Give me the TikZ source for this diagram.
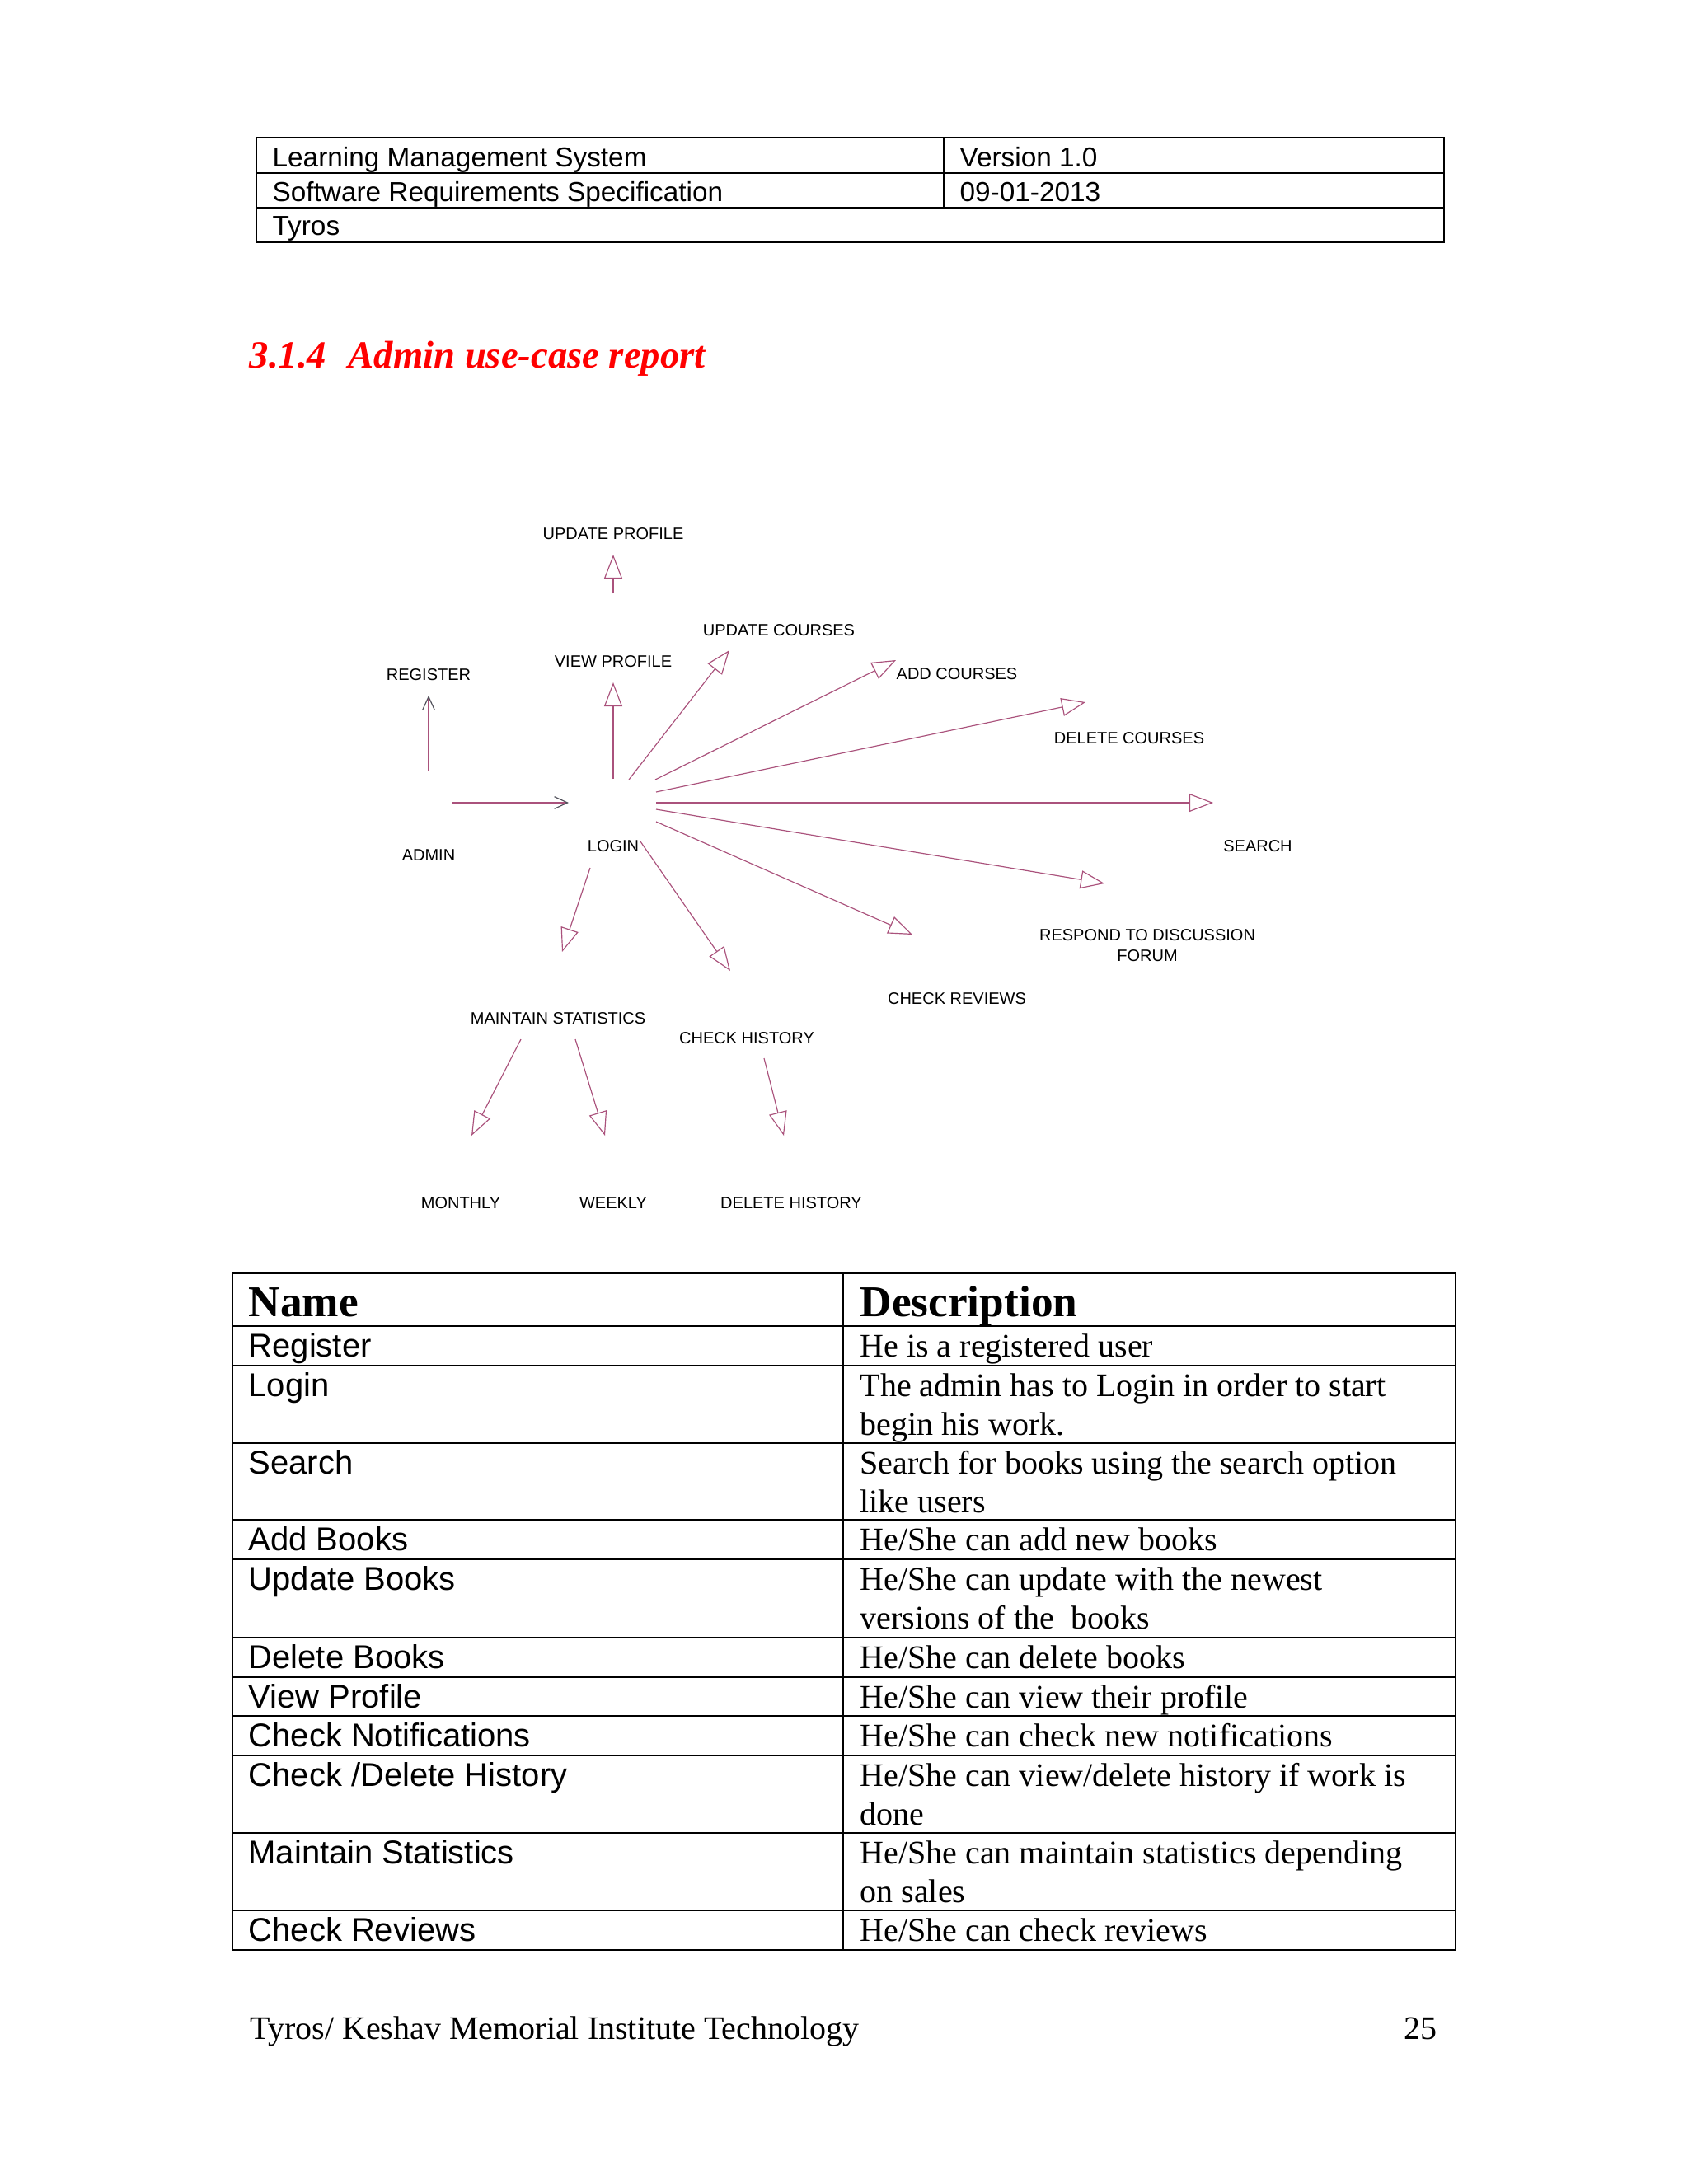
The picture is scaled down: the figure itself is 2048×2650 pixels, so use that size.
\documentclass[tikz,border=0pt]{standalone}
\usepackage{fontspec}
\setmainfont{Liberation Serif}
\setsansfont{Liberation Sans}
\usetikzlibrary{arrows.meta}

\definecolor{relline}{RGB}{170,82,124}
\definecolor{barbgray}{RGB}{80,80,90}
\definecolor{titlered}{RGB}{255,0,0}

\begin{document}
\begin{tikzpicture}[
  x=0.3pt, y=-0.3pt,
  uc/.style={font=\sffamily\fontsize{6}{7.5}\selectfont, inner sep=0pt, align=center},
  rel/.style={relline, line width=0.35pt, -{Triangle[open, length=8.7pt, width=6.6pt]}},
  assoc/.style={relline, line width=0.35pt, -{Straight Barb[length=4.8pt, width=4.4pt, color=barbgray]}},
  cell/.style={anchor=base west, inner sep=0pt},
  hdr/.style={cell, font=\sffamily\fontsize{10}{12}\selectfont},
  namecell/.style={cell, font=\sffamily\fontsize{12}{14}\selectfont},
  desccell/.style={cell, align=left, font=\fontsize{12}{14.1}\selectfont},
  rule/.style={line width=0.6pt}
]
\useasboundingbox[fill=white] (0,0) rectangle (2048,2650);

% document header
\draw[line width=0.8pt] (311,167) rectangle (1752,294);
\draw[rule] (311,210) -- (1752,210) (311,252) -- (1752,252) (1145,167) -- (1145,252);
\node[hdr] (lms) at (330,202) {Learning Management System};
\node[hdr] (version) at (1164,202) {Version 1.0};
\node[hdr] (srs) at (330,244) {Software Requirements Specification};
\node[hdr] (date) at (1164,244) {09-01-2013};
\node[hdr] (team) at (330,285) {Tyros};

\node[cell, text=titlered, font=\bfseries\itshape\fontsize{14}{17}\selectfont] (title) at (302,446)
  {3.1.4\hspace{8pt}Admin use-case report};

% use cases
\node[uc] (updprof) at (744,648) {UPDATE PROFILE};
\node[uc] (updcrs) at (945,765) {UPDATE COURSES};
\node[uc] (viewprof) at (744,803) {VIEW PROFILE};
\node[uc] (register) at (520,819) {REGISTER};
\node[uc] (addcrs) at (1161,818) {ADD COURSES};
\node[uc] (delcrs) at (1370,896) {DELETE COURSES};
\node[uc] (admin) at (520,1038) {ADMIN};
\node[uc] (login) at (744,1027) {LOGIN};
\node[uc] (search) at (1526,1027) {SEARCH};
\node[uc] (forum) at (1392,1147) {RESPOND TO DISCUSSION\\FORUM};
\node[uc] (reviews) at (1161,1212) {CHECK REVIEWS};
\node[uc] (stats) at (677,1236) {MAINTAIN STATISTICS};
\node[uc] (history) at (906,1260) {CHECK HISTORY};
\node[uc] (monthly) at (559,1460) {MONTHLY};
\node[uc] (weekly) at (744,1460) {WEEKLY};
\node[uc] (delhist) at (960,1460) {DELETE HISTORY};

% connector ends
\coordinate (admin-e) at (548,974);
\coordinate (admin-n) at (520,935);
\coordinate (login-w) at (690,974);
\coordinate (register-s) at (520,844);
\coordinate (login-n) at (744,945);
\coordinate (login-nne) at (763,946);
\coordinate (login-ne) at (795,946);
\coordinate (login-ene) at (796,961);
\coordinate (login-e) at (796,974);
\coordinate (login-ese) at (796,982);
\coordinate (login-se) at (796,997);
\coordinate (login-sse) at (777,1021);
\coordinate (login-s) at (716,1053);
\coordinate (viewprof-s) at (744,828);
\coordinate (viewprof-n) at (744,720);
\coordinate (updprof-s) at (744,673);
\coordinate (updcrs-sw) at (885,789);
\coordinate (addcrs-w) at (1087,801);
\coordinate (delcrs-w) at (1317,852);
\coordinate (search-w) at (1472,974);
\coordinate (forum-nw) at (1340,1072);
\coordinate (reviews-nw) at (1107,1134);
\coordinate (stats-n) at (682,1155);
\coordinate (history-n) at (886,1178);
\coordinate (stats-sw) at (632,1261);
\coordinate (stats-se) at (698,1261);
\coordinate (history-s) at (927,1284);
\coordinate (monthly-n) at (572,1378);
\coordinate (weekly-n) at (734,1378);
\coordinate (delhist-n) at (951,1378);

\draw[assoc] (admin-e) -- (login-w);
\draw[assoc] (admin-n) -- (register-s);
\foreach \a/\b in {login-n/viewprof-s, viewprof-n/updprof-s, login-nne/updcrs-sw,
  login-ne/addcrs-w, login-ene/delcrs-w, login-e/search-w, login-ese/forum-nw,
  login-se/reviews-nw, login-s/stats-n, login-sse/history-n,
  stats-sw/monthly-n, stats-se/weekly-n, history-s/delhist-n}
  \draw[rel] (\a) -- (\b);

% description table
\draw[rule] (282,1545) rectangle (1766,2366);
\draw[rule] (1023,1545) -- (1023,2366);
\foreach \y in {1609,1657,1751,1844,1892,1987,2035,2082,2130,2224,2318}
  \draw[rule] (282,\y) -- (1766,\y);

\node[cell, font=\bfseries\fontsize{16}{19}\selectfont] (namehead) at (301,1597) {Name};
\node[cell, font=\bfseries\fontsize{16}{19}\selectfont] (deschead) at (1043,1597) {Description};

% two-line cells sit on the baseline of their last line
\node[namecell] (n1) at (301,1646) {Register};
\node[desccell] (d1) at (1043,1646) {He is a registered user};
\node[namecell] (n2) at (301,1694) {Login};
\node[desccell] (d2) at (1043,1741) {The admin has to Login in order to start\\begin his work.};
\node[namecell] (n3) at (301,1788) {Search};
\node[desccell] (d3) at (1043,1835) {Search for books using the search option\\like users};
\node[namecell] (n4) at (301,1881) {Add Books};
\node[desccell] (d4) at (1043,1881) {He/She can add new books};
\node[namecell] (n5) at (301,1929) {Update Books};
\node[desccell] (d5) at (1043,1976) {He/She can update with the newest\\versions of the\ \ books};
\node[namecell] (n6) at (301,2024) {Delete Books};
\node[desccell] (d6) at (1043,2024) {He/She can delete books};
\node[namecell] (n7) at (301,2072) {View Profile};
\node[desccell] (d7) at (1043,2072) {He/She can view their profile};
\node[namecell] (n8) at (301,2119) {Check Notifications};
\node[desccell] (d8) at (1043,2119) {He/She can check new notifications};
\node[namecell] (n9) at (301,2167) {Check /Delete History};
\node[desccell] (d9) at (1043,2214) {He/She can view/delete history if work is\\done};
\node[namecell] (n10) at (301,2261) {Maintain Statistics};
\node[desccell] (d10) at (1043,2308) {He/She can maintain statistics depending\\on sales};
\node[namecell] (n11) at (301,2355) {Check Reviews};
\node[desccell] (d11) at (1043,2355) {He/She can check reviews};

% footer
\node[cell, font=\fontsize{12}{14}\selectfont] (footer) at (303,2474) {Tyros/ Keshav Memorial Institute Technology};
\node[anchor=base east, inner sep=0pt, font=\fontsize{12}{14}\selectfont] (pageno) at (1744,2474) {25};
\end{tikzpicture}
\end{document}
